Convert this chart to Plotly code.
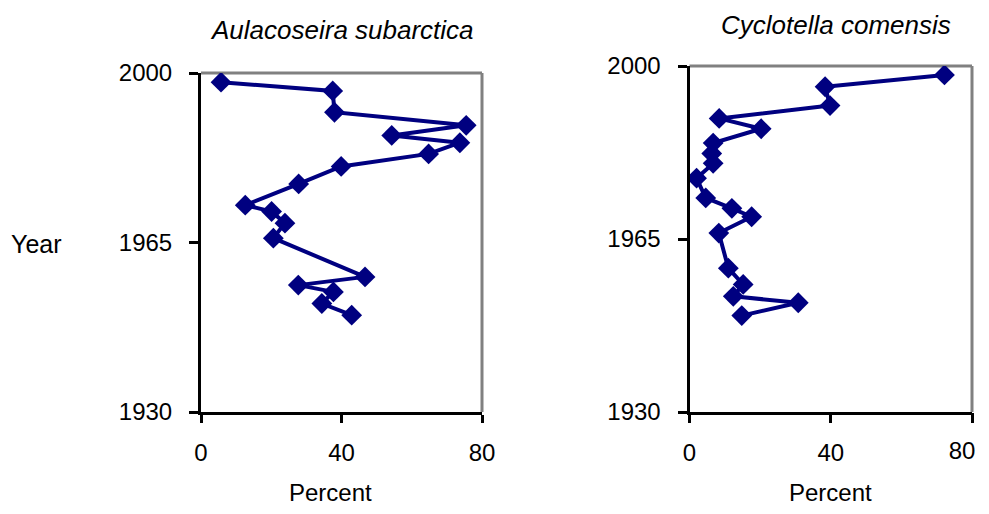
import plotly.graph_objects as go

# --- Data ---
aula_percent = [5.7, 37.5, 38.0, 75.5, 54.3, 73.7, 64.8, 39.9, 27.8, 12.6,
                20.1, 23.9, 20.6, 46.7, 27.7, 37.7, 34.4, 42.9]
aula_year = [1998.1, 1996.3, 1991.9, 1989.2, 1987.1, 1985.6, 1983.3, 1980.7, 1977.1, 1972.7,
             1971.4, 1969.0, 1965.9, 1957.9, 1956.2, 1954.8, 1952.4, 1950.0]

cyclo_percent = [72.2, 38.4, 39.8, 8.4, 20.3, 6.7, 6.3, 6.7, 2.0, 4.6,
                 12.0, 17.6, 8.3, 11.0, 15.2, 12.4, 30.8, 14.8]
cyclo_year = [1998.2, 1995.8, 1992.0, 1989.4, 1987.3, 1984.4, 1982.3, 1980.3, 1977.3, 1973.3,
              1971.2, 1969.5, 1966.2, 1959.1, 1955.8, 1953.4, 1952.1, 1949.5]

titles = ["Aulacoseira subarctica", "Cyclotella comensis"]
x_ticks = [0, 40, 80]
y_ticks = [1930, 1965, 2000]
x_label = "Percent"
y_label = "Year"

OX, OY = 8, 8          # page body margin offset of the figure div
W, H = 989 - OX, 514 - 2 * OY   # keep the page inside the 989x514 window
FONT = "Liberation Sans, Arial, sans-serif"
NAVY = "#000080"

def px_x(p):
    return (p - OX) / W

def px_y(p):
    return 1 - (p - OY) / H

fig = go.Figure()

fig.add_trace(go.Scatter(
    x=aula_percent, y=aula_year, mode="lines+markers",
    line=dict(color=NAVY, width=4),
    marker=dict(symbol="diamond", size=16, color=NAVY),
    xaxis="x", yaxis="y", showlegend=False))
fig.add_trace(go.Scatter(
    x=cyclo_percent, y=cyclo_year, mode="lines+markers",
    line=dict(color=NAVY, width=4),
    marker=dict(symbol="diamond", size=16, color=NAVY),
    xaxis="x2", yaxis="y2", showlegend=False))
# empty trace so the overlay axis carrying the nudged "80" label is drawn
fig.add_trace(go.Scatter(x=[], y=[], mode="markers", xaxis="x3", yaxis="y2",
                         showlegend=False, hoverinfo="skip"))

tickfont = dict(family=FONT, size=24, color="black")
axis_common = dict(showgrid=False, zeroline=False, showline=True, linecolor="black",
                   linewidth=3, ticks="outside", tickcolor="black", tickwidth=3,
                   automargin=False, ticklabeloverflow="allow", tickfont=tickfont)

# right panel: last x label is drawn by an overlay axis, nudged inward as in the reference
x2_text = [str(v) for v in x_ticks[:-1]] + [""]

fig.update_layout(
    width=W, height=H, autosize=False,
    margin=dict(l=0, r=0, t=0, b=0, pad=0, autoexpand=False),
    paper_bgcolor="white", plot_bgcolor="white",
    showlegend=False,
    xaxis=dict(domain=[px_x(201), px_x(482)], range=[0, 80], tickvals=x_ticks,
               anchor="y", ticklen=8, ticklabelstandoff=9, **axis_common),
    yaxis=dict(domain=[px_y(412), px_y(73)], range=[1930, 2000], tickvals=y_ticks,
               anchor="x", ticklen=9, ticklabelstandoff=12, **axis_common),
    xaxis2=dict(domain=[px_x(689.5), px_x(972)], range=[0, 80], tickvals=x_ticks,
                ticktext=x2_text,
                anchor="y2", ticklen=8, ticklabelstandoff=9, **axis_common),
    yaxis2=dict(domain=[px_y(412), px_y(66)], range=[1930, 2000], tickvals=y_ticks,
                anchor="x2", ticklen=9, ticklabelstandoff=12, **axis_common),
    xaxis3=dict(overlaying="x2", anchor="y2", side="bottom", range=[0, 80],
                tickvals=[x_ticks[-1]], ticktext=[str(x_ticks[-1])],
                showgrid=False, zeroline=False, showline=False,
                ticks="outside", ticklen=8, tickwidth=3, tickcolor="black",
                ticklabelstandoff=9, ticklabelshift=-10,
                automargin=False, ticklabeloverflow="allow", tickfont=tickfont),
)

# gray top/right borders
for xr, yr in [("x domain", "y domain"), ("x2 domain", "y2 domain")]:
    fig.add_shape(type="line", xref=xr, yref=yr, x0=0, x1=1, y0=1, y1=1,
                  line=dict(color="#808080", width=3), layer="below")
    fig.add_shape(type="line", xref=xr, yref=yr, x0=1, x1=1, y0=0, y1=1,
                  line=dict(color="#808080", width=3), layer="below")

def label(text, cx, cy, size, italic=False):
    fig.add_annotation(text=("<i>" + text + "</i>") if italic else text,
                       x=px_x(cx), y=px_y(cy), xref="paper", yref="paper",
                       xanchor="center", yanchor="middle", showarrow=False,
                       borderpad=0,
                       font=dict(family=FONT, size=size, color="black"))

# titles
label(titles[0], 341.5, 30, 26, italic=True)
label(titles[1], 836, 25, 26, italic=True)
# axis labels
label(y_label, 36.5, 244, 25)
label(x_label, 330, 492, 24)
label(x_label, 830, 492, 24)

fig.write_html("out.html")
